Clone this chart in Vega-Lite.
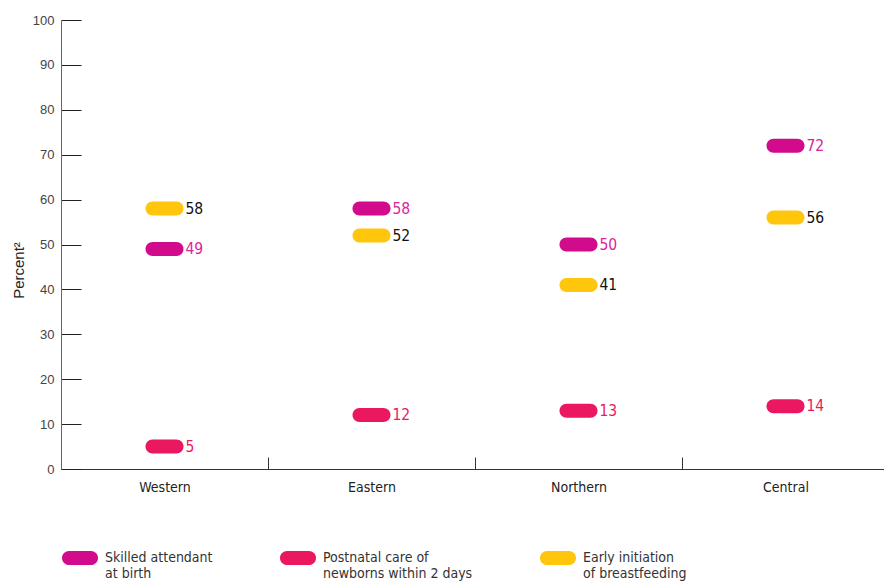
{
  "$schema": "https://vega.github.io/schema/vega-lite/v6.json",
  "width": 823,
  "height": 449,
  "autosize": "none",
  "padding": {"left": 61, "top": 20, "right": 0, "bottom": 115},
  "config": {"view": {"stroke": null}, "font": "DejaVu Sans Condensed, sans-serif"},
  "data": {
    "values": [
      {"region": "Western", "indicator": "Skilled attendant at birth", "value": 49},
      {"region": "Western", "indicator": "Postnatal care of newborns within 2 days", "value": 5},
      {"region": "Western", "indicator": "Early initiation of breastfeeding", "value": 58},
      {"region": "Eastern", "indicator": "Skilled attendant at birth", "value": 58},
      {"region": "Eastern", "indicator": "Postnatal care of newborns within 2 days", "value": 12},
      {"region": "Eastern", "indicator": "Early initiation of breastfeeding", "value": 52},
      {"region": "Northern", "indicator": "Skilled attendant at birth", "value": 50},
      {"region": "Northern", "indicator": "Postnatal care of newborns within 2 days", "value": 13},
      {"region": "Northern", "indicator": "Early initiation of breastfeeding", "value": 41},
      {"region": "Central", "indicator": "Skilled attendant at birth", "value": 72},
      {"region": "Central", "indicator": "Postnatal care of newborns within 2 days", "value": 14},
      {"region": "Central", "indicator": "Early initiation of breastfeeding", "value": 56}
    ]
  },
  "encoding": {
    "x": {
      "field": "region",
      "type": "nominal",
      "sort": ["Western", "Eastern", "Northern", "Central"],
      "scale": {"paddingInner": 0, "paddingOuter": 0, "range": [0, 828]},
      "axis": {
        "title": null,
        "labelAngle": 0,
        "labelFont": "DejaVu Sans Condensed, sans-serif",
        "labelFontSize": 14,
        "labelColor": "#222222",
        "labelPadding": 23,
        "tickBand": "extent",
        "tickSize": -12,
        "tickColor": "#333333",
        "domainColor": "#333333"
      }
    },
    "y": {
      "field": "value",
      "type": "quantitative",
      "scale": {"domain": [0, 100]},
      "axis": {
        "title": "Percent²",
        "titleFont": "Liberation Sans, sans-serif",
        "titleFontSize": 15,
        "titleFontWeight": "normal",
        "titleColor": "#222222",
        "titleAngle": -90,
        "titleX": -43,
        "titleY": 250,
        "titleAlign": "center",
        "titleBaseline": "middle",
        "labelFont": "Liberation Sans, sans-serif",
        "labelFontSize": 13,
        "labelColor": "#444444",
        "labelPadding": 27,
        "labelOverlap": false,
        "values": [0, 10, 20, 30, 40, 50, 60, 70, 80, 90, 100],
        "tickSize": -20,
        "tickColor": "#222222",
        "domainColor": "#666666",
        "grid": false
      }
    }
  },
  "layer": [
    {
      "mark": {"type": "tick", "orient": "horizontal", "size": 38, "thickness": 14, "cornerRadius": 7, "opacity": 1},
      "encoding": {
        "color": {
          "field": "indicator",
          "type": "nominal",
          "scale": {
            "domain": ["Skilled attendant at birth", "Postnatal care of newborns within 2 days", "Early initiation of breastfeeding"],
            "range": ["#D20B8C", "#EB1760", "#FFC60B"]
          },
          "legend": {
            "orient": "none",
            "legendX": 1,
            "legendY": 513,
            "direction": "horizontal",
            "title": null,
            "symbolType": "M-0.61,0L0.61,0A0.39,0.39 0 0 1 0.61,0.78L-0.61,0.78A0.39,0.39 0 0 1 -0.61,0Z",
            "symbolSize": 1296,
            "symbolStrokeWidth": 0,
            "symbolOpacity": 1,
            "labelFont": "DejaVu Sans Condensed, sans-serif",
            "labelFontSize": 14,
            "labelLineHeight": 18,
            "labelColor": "#333333",
            "labelBaseline": "top",
            "labelOffset": 7,
            "labelLimit": 300,
            "columnPadding": 67,
            "labelExpr": "datum.label == 'Skilled attendant at birth' ? ['Skilled attendant', 'at birth'] : datum.label == 'Postnatal care of newborns within 2 days' ? ['Postnatal care of', 'newborns within 2 days'] : ['Early initiation', 'of breastfeeding']"
          }
        }
      }
    },
    {
      "mark": {"type": "text", "align": "left", "baseline": "middle", "dx": 21, "fontSize": 15.5, "font": "DejaVu Sans Condensed, sans-serif"},
      "encoding": {
        "text": {"field": "value", "type": "quantitative"},
        "color": {
          "field": "indicator",
          "type": "nominal",
          "scale": {
            "domain": ["Skilled attendant at birth", "Postnatal care of newborns within 2 days", "Early initiation of breastfeeding"],
            "range": ["#DE2298", "#EB1760", "#111111"]
          },
          "legend": null
        }
      }
    }
  ],
  "resolve": {"scale": {"color": "independent"}}
}
